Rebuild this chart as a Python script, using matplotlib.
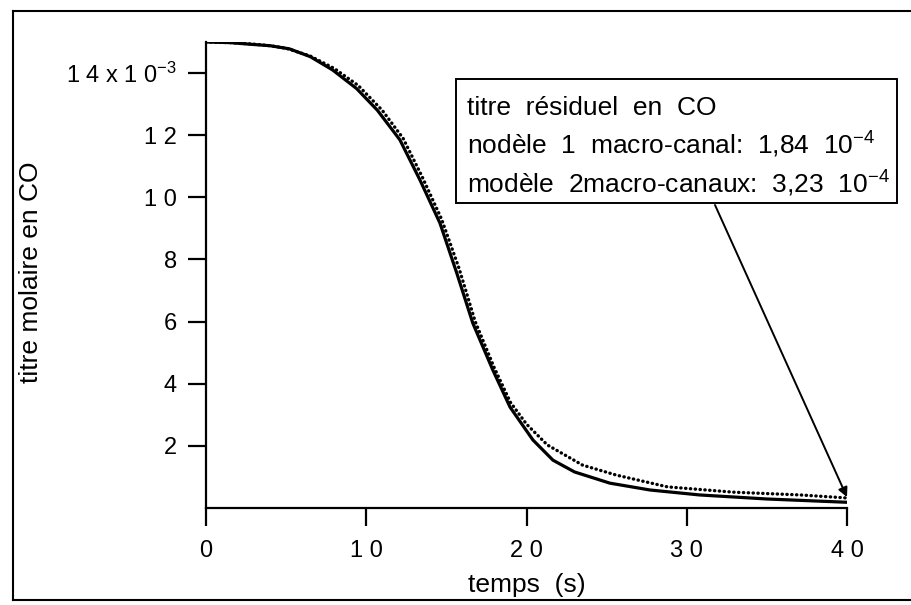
import matplotlib
matplotlib.use("Agg")
import matplotlib.pyplot as plt
from matplotlib.lines import Line2D
from matplotlib.patches import Rectangle

plt.rcParams["font.family"] = ["Liberation Sans", "DejaVu Sans"]
plt.rcParams["mathtext.fontset"] = "custom"
plt.rcParams["mathtext.rm"] = "Liberation Sans"
plt.rcParams["mathtext.default"] = "regular"

# modèle 1 macro-canal (trait plein)
t_m1 = [0, 1.5, 2.7, 4.0, 5.2, 6.5, 7.9, 9.4, 10.7, 12.1, 13.35, 14.6, 15.65, 16.65,
        17.9, 18.97, 20.4, 21.65, 23.0, 25.2, 27.7, 30.8, 35.0, 40.0]
y_m1 = [15.0, 14.98, 14.93, 14.88, 14.78, 14.53, 14.1, 13.5, 12.8, 11.85, 10.56, 9.17,
        7.56, 5.95, 4.44, 3.25, 2.19, 1.54, 1.16, 0.80, 0.58, 0.42, 0.29, 0.184]

# modèle 2 macro-canaux (pointillés)
t_m2 = [0, 1.5, 3, 4.0, 5, 6.5, 8, 9.5, 11, 12.3, 13.5, 14.7, 15.8, 16.8, 18, 19, 20,
        21.3, 23.5, 25.6, 28.8, 32.9, 37.1, 40.0]
y_m2 = [15.0, 14.98, 14.93, 14.88, 14.8, 14.55, 14.15, 13.6, 12.8, 11.9, 10.65, 9.3,
        7.7, 6.0, 4.5, 3.4, 2.7, 2.03, 1.38, 1.06, 0.68, 0.51, 0.42, 0.323]

xticks = [0, 10, 20, 30, 40]
xlabels = ["0", "1 0", "2 0", "3 0", "4 0"]
yticks = [2, 4, 6, 8, 10, 12, 14]
ylabels = ["2", "4", "6", "8", "1 0", "1 2", r"1 4 x 1 0$^{-3}$"]

legend_lines = [
    "titre  résiduel  en  CO",
    r"nodèle  1  macro-canal:  1,84  10$^{-4}$",
    r"modèle  2macro-canaux:  3,23  10$^{-4}$",
]

W, H = 912, 605
fig = plt.figure(figsize=(W / 100, H / 100), dpi=100)
ax = fig.add_axes([206 / W, 1 - 508 / H, (847 - 206) / W, (508 - 42) / H])

scale = 1e-3
ax.plot(t_m1, [v * scale for v in y_m1], color="black", lw=2.3,
        solid_joinstyle="round", solid_capstyle="round")
ax.plot(t_m2, [v * scale for v in y_m2], color="black", lw=2.4,
        linestyle=(0, (0.1, 1.35)), dash_capstyle="round")

ax.set_xlim(0, 40)
ax.set_ylim(0, 15 * scale)
ax.set_xticks(xticks)
ax.set_xticklabels(xlabels)
ax.set_yticks([v * scale for v in yticks])
ax.set_yticklabels(ylabels)
for s in ["top", "right"]:
    ax.spines[s].set_visible(False)
for s in ["left", "bottom"]:
    ax.spines[s].set_linewidth(1.6)
ax.tick_params(direction="out", length=13, width=1.6, labelsize=17, pad=8)
ax.tick_params(axis="x", pad=10)

ax.set_xlabel("temps  (s)", fontsize=19)
ax.set_ylabel("titre molaire en CO", fontsize=19, va="center")
ax.yaxis.set_label_coords(-(206 - 31) / (847 - 206), (508 - 272) / (508 - 42))
ax.xaxis.set_label_coords(0.5, -(585 - 508) / (508 - 42))
ax.xaxis.label.set_va("center")

# cadre du texte
fig.patches.append(Rectangle((456 / W, 1 - 203 / H), (897 - 456) / W, (203 - 79) / H,
                             transform=fig.transFigure, fill=False, lw=1.4,
                             edgecolor="black"))
for i, txt in enumerate(legend_lines):
    fig.text(467 / W, 1 - (115 + 39 * i) / H, txt, fontsize=19,
             ha="left", va="baseline")

ax.annotate("", xy=(40, 0.35 * scale), xycoords="data",
            xytext=(715, H - 205), textcoords="figure pixels",
            arrowprops=dict(arrowstyle="-|>", color="black", lw=1.4,
                            mutation_scale=14, shrinkA=0, shrinkB=0))

# cadre extérieur de la page
frame = dict(color="black", lw=1.5, transform=fig.transFigure)
fig.lines.append(Line2D([13 / W, 1], [1 - 11 / H, 1 - 11 / H], **frame))
fig.lines.append(Line2D([13 / W, 13 / W], [1 - 11 / H, 1 - 600 / H], **frame))
fig.lines.append(Line2D([13 / W, 1], [1 - 600 / H, 1 - 600 / H], **frame))

fig.savefig("out.png", dpi=100)
